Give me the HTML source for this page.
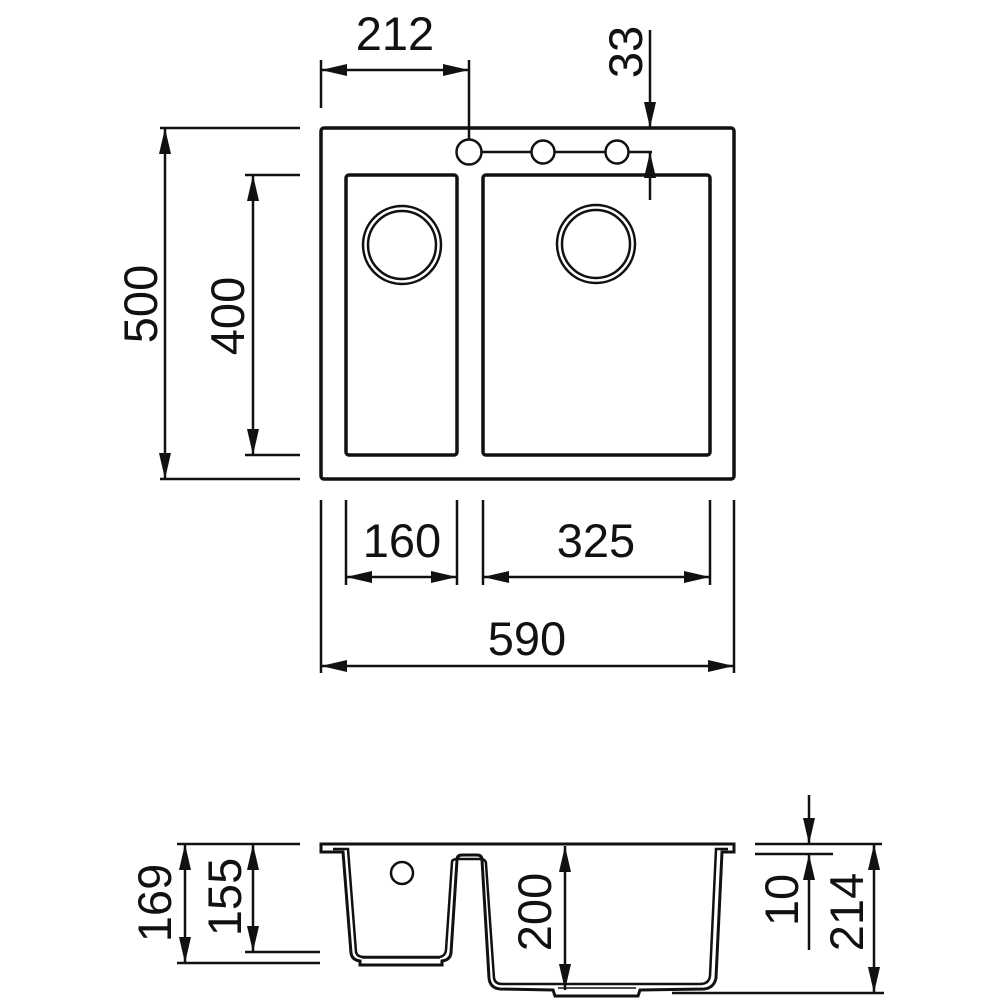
<!DOCTYPE html>
<html><head><style>body{margin:0;background:#fff}svg{display:block}text{font-family:"Liberation Sans",sans-serif;font-size:47px;fill:#111}</style></head><body>
<svg width="1000" height="1000" viewBox="0 0 1000 1000" xmlns="http://www.w3.org/2000/svg">
<defs>
<marker id="b" viewBox="0 0 26 12" refX="26" refY="6" markerWidth="26" markerHeight="12" orient="auto-start-reverse" markerUnits="userSpaceOnUse"><path d="M0,0 L26,6 L0,12z" fill="#111"/></marker>
</defs>
<g fill="none" stroke="#111">
<rect x="321" y="128" width="413" height="351" rx="3" stroke-width="3.5"/>
<rect x="346" y="175" width="111" height="280" rx="3" stroke-width="3.5"/>
<rect x="483" y="175" width="227" height="280" rx="3" stroke-width="3.5"/>
<circle cx="402" cy="245" r="39" stroke-width="2.5"/><circle cx="402" cy="245" r="34" stroke-width="2.5"/>
<circle cx="596" cy="244" r="39" stroke-width="2.5"/><circle cx="596" cy="244" r="34" stroke-width="2.5"/>
<line x1="481" y1="152" x2="652" y2="152" stroke-width="2.5"/>
<circle cx="469" cy="152" r="12.5" stroke-width="2.5" fill="#fff"/>
<circle cx="543" cy="152" r="11.5" stroke-width="2.5" fill="#fff"/>
<circle cx="617" cy="152" r="11.5" stroke-width="2.5" fill="#fff"/>
<g stroke-width="2.5">
<line x1="321" y1="60" x2="321" y2="108"/><line x1="469" y1="60" x2="469" y2="140"/>
<line x1="321" y1="70" x2="469" y2="70" marker-start="url(#b)" marker-end="url(#b)"/>
<line x1="650" y1="30" x2="650" y2="128" marker-end="url(#b)"/>
<line x1="650" y1="200" x2="650" y2="152" marker-end="url(#b)"/>
<line x1="160" y1="128" x2="300" y2="128"/><line x1="160" y1="479" x2="300" y2="479"/>
<line x1="165" y1="128" x2="165" y2="479" marker-start="url(#b)" marker-end="url(#b)"/>
<line x1="245" y1="175" x2="300" y2="175"/><line x1="245" y1="455" x2="300" y2="455"/>
<line x1="253" y1="175" x2="253" y2="455" marker-start="url(#b)" marker-end="url(#b)"/>
<line x1="321" y1="500" x2="321" y2="673"/><line x1="734" y1="500" x2="734" y2="673"/>
<line x1="346" y1="500" x2="346" y2="585"/><line x1="457" y1="500" x2="457" y2="585"/>
<line x1="483" y1="500" x2="483" y2="585"/><line x1="710" y1="500" x2="710" y2="585"/>
<line x1="346" y1="577" x2="457" y2="577" marker-start="url(#b)" marker-end="url(#b)"/>
<line x1="483" y1="577" x2="710" y2="577" marker-start="url(#b)" marker-end="url(#b)"/>
<line x1="321" y1="666" x2="734" y2="666" marker-start="url(#b)" marker-end="url(#b)"/>
</g>
<path d="M321,852 L321,844 L734,844 L734,852 L722,852 L716,978 Q714,988 704,989 L640,990 L638,996 L555,996 L553,990 L500,989 Q490,988 489,978 L482,860 Q482,855 477,855 L462,855 Q457,855 457,860 L451,953 Q450,960 442,961 L442,965 L360,965 L360,961 Q352,960 351,953 L343,852 Z" stroke-width="3"/>
<path d="M333,849 L348,849 L356,952 Q357,957 364,957 L438,957 Q445,957 446,950 L452,862 Q452,859 458,859 L480,859 Q486,859 486,864 L494,978 Q495,984 502,984 L700,984 Q709,984 710,976 L716,849 L728,849" stroke-width="2.5"/>
<line x1="362" y1="958" x2="440" y2="958" stroke-width="1.5"/>
<line x1="558" y1="988" x2="636" y2="988" stroke-width="1.5"/>
<circle cx="402" cy="873" r="11" stroke-width="2.5"/>
<g stroke-width="2.5">
<line x1="177" y1="844" x2="300" y2="844"/><line x1="245" y1="952" x2="320" y2="952"/><line x1="177" y1="963" x2="320" y2="963"/>
<line x1="185" y1="844" x2="185" y2="963" marker-start="url(#b)" marker-end="url(#b)"/>
<line x1="253" y1="844" x2="253" y2="952" marker-start="url(#b)" marker-end="url(#b)"/>
<line x1="565" y1="846" x2="565" y2="990" marker-start="url(#b)" marker-end="url(#b)"/>
<line x1="755" y1="844" x2="882" y2="844"/><line x1="755" y1="854" x2="833" y2="854"/>
<line x1="672" y1="993" x2="884" y2="993"/>
<line x1="809" y1="795" x2="809" y2="844" marker-end="url(#b)"/>
<line x1="809" y1="950" x2="809" y2="854" marker-end="url(#b)"/>
<line x1="874" y1="844" x2="874" y2="993" marker-start="url(#b)" marker-end="url(#b)"/>
</g>
</g>
<text x="395" y="50" text-anchor="middle">212</text>
<text transform="translate(642,52) rotate(-90)" text-anchor="middle">33</text>
<text transform="translate(157,304) rotate(-90)" text-anchor="middle">500</text>
<text transform="translate(244,316) rotate(-90)" text-anchor="middle">400</text>
<text x="402" y="557" text-anchor="middle">160</text>
<text x="596" y="557" text-anchor="middle">325</text>
<text x="527" y="655" text-anchor="middle">590</text>
<text transform="translate(171,903) rotate(-90)" text-anchor="middle">169</text>
<text transform="translate(241,897) rotate(-90)" text-anchor="middle">155</text>
<text transform="translate(551,912) rotate(-90)" text-anchor="middle">200</text>
<text transform="translate(798,900) rotate(-90)" text-anchor="middle">10</text>
<text transform="translate(863,912) rotate(-90)" text-anchor="middle">214</text>
</svg>
</body></html>
